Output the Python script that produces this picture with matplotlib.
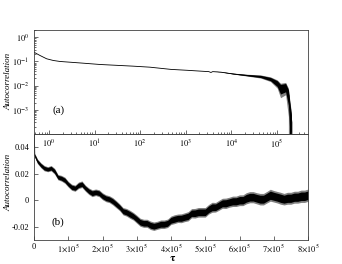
import numpy as np
import matplotlib
matplotlib.use("Agg")
import matplotlib.pyplot as plt
from matplotlib.ticker import LogLocator, FixedLocator, NullFormatter

plt.rcParams['font.family'] = ['Liberation Serif', 'DejaVu Serif']
plt.rcParams['mathtext.fontset'] = 'stix'

# ---- top panel (log-log) data ----
top_tau = [0.47, 0.635, 0.89, 1.24, 1.74, 5.6, 13.1, 69.5, 164, 473, 1100, 2500,
           3200, 3570, 3900, 5900, 11400, 22700, 45000, 74000, 104000, 123000,
           159000, 183000, 193000, 213000, 240000]
top_val = [0.241, 0.177, 0.129, 0.110, 0.100, 0.085, 0.075, 0.064, 0.058, 0.047,
           0.043, 0.039, 0.038, 0.035, 0.038, 0.036, 0.030, 0.026, 0.023, 0.018,
           0.012, 0.0075, 0.0085, 0.0040, 0.0014, 0.0003, -0.001]
top_band = [0, 0, 0, 0, 0, 0, 0, 0, 0, 0, 0, 0, 0, 0, 0, 0.0003, 0.0010, 0.0016,
            0.0024, 0.0028, 0.0032, 0.0032, 0.0032, 0.0025, 0.0012, 0.0003, 0.0003]

# ---- bottom panel (linear) data ----
bot_tau = [0, 2000] + [k * 1e4 for k in range(1, 81)]
bot_val = [0.06, 0.034,
           0.0294, 0.0264, 0.0242, 0.0234, 0.0242, 0.0219, 0.0174, 0.0166, 0.0151, 0.0121,
           0.0098, 0.0091, 0.0113, 0.0121, 0.0091, 0.0068, 0.0053, 0.0060, 0.0053, 0.0030,
           0.0015, 0.0008, -0.0008, -0.0030, -0.0053, -0.0083, -0.0091, -0.0106, -0.0121, -0.0143,
           -0.0166, -0.0174, -0.0174, -0.0189, -0.0196, -0.0189, -0.0181, -0.0181, -0.0174, -0.0151,
           -0.0143, -0.0136, -0.0136, -0.0128, -0.0121, -0.0098, -0.0098, -0.0091, -0.0091, -0.0091,
           -0.0068, -0.0053, -0.0053, -0.0038, -0.0023, -0.0023, -0.0015, -0.0008, -0.0008, 0.0000,
           0.0000, 0.0015, 0.0023, 0.0023, 0.0015, 0.0008, 0.0008, 0.0023, 0.0038, 0.0030,
           0.0023, 0.0015, 0.0008, 0.0015, 0.0015, 0.0023, 0.0023, 0.0030, 0.0030, 0.0038]
bot_band = [0.0008, 0.0010,
            0.0012, 0.0013, 0.0014, 0.0013, 0.0014, 0.0015, 0.0014, 0.0015, 0.0016, 0.0015,
            0.0016, 0.0016, 0.0017, 0.0017, 0.0016, 0.0017, 0.0018, 0.0017, 0.0018, 0.0018,
            0.0018, 0.0018, 0.0019, 0.0019, 0.0018, 0.0019, 0.0020, 0.0021, 0.0020, 0.0021,
            0.0021, 0.0021, 0.0021, 0.0022, 0.0022, 0.0021, 0.0022, 0.0022, 0.0022, 0.0022,
            0.0023, 0.0022, 0.0023, 0.0023, 0.0024, 0.0024, 0.0025, 0.0025, 0.0025, 0.0025,
            0.0025, 0.0026, 0.0025, 0.0026, 0.0026, 0.0027, 0.0026, 0.0027, 0.0027, 0.0028,
            0.0028, 0.0029, 0.0029, 0.0029, 0.0029, 0.0030, 0.0030, 0.0030, 0.0031, 0.0030,
            0.0030, 0.0031, 0.0030, 0.0031, 0.0031, 0.0031, 0.0031, 0.0032, 0.0032, 0.0032]

bot_ticks = [0, 1e5, 2e5, 3e5, 4e5, 5e5, 6e5, 7e5, 8e5]
bot_ticklabels = ['0'] + [r'$%d{\times}10^5$' % i for i in range(1, 9)]
bot_yticks = [-0.02, 0, 0.02, 0.04]
bot_yticklabels = ['-0.02', '0', '0.02', '0.04']

W, H = 342, 264
fig = plt.figure(figsize=(W / 100, H / 100), dpi=100)
L, R = 34 / W, 308 / W
ax1 = fig.add_axes([L, 1 - 134 / H, R - L, (134 - 30) / H])
ax2 = fig.add_axes([L, 1 - 240 / H, R - L, (240 - 134) / H])
ax2.patch.set_alpha(0)
ax1.set_zorder(3)
ax1.patch.set_alpha(0)

fs = 6
for ax in (ax1, ax2):
    for s in ax.spines.values():
        s.set_linewidth(0.6)
        s.set_color('0.25')
    ax.tick_params(which='both', direction='in', top=False, right=False,
                   labelsize=fs, width=0.5, colors='0.2', labelcolor='black')
    ax.tick_params(which='major', length=3)
    ax.tick_params(which='minor', length=1.6)

# top panel
tt = np.array(top_tau); tv = np.array(top_val); tb = np.array(top_band)
ax1.set_xscale('log'); ax1.set_yscale('log')
ax1.fill_between(tt, tv - 1.4 * tb, tv + 1.4 * tb, color='0.5', lw=0)
ax1.fill_between(tt, tv - tb, tv + tb, color='black', lw=0)
ax1.plot(tt, tv, color='black', lw=0.6)
ax1.set_xlim(0.47, 4.8e5)
ax1.set_ylim(1e-4, 2)
ax1.xaxis.set_major_locator(FixedLocator([1, 10, 100, 1e3, 1e4, 1e5]))
ax1.set_xticklabels([r'$10^{%d}$' % i for i in range(0, 6)])
ax1.xaxis.set_minor_locator(LogLocator(base=10, subs=np.arange(2, 10), numticks=20))
ax1.xaxis.set_minor_formatter(NullFormatter())
ax1.yaxis.set_major_locator(FixedLocator([1e-3, 1e-2, 1e-1, 1]))
ax1.set_yticklabels([r'$10^{-3}$', r'$10^{-2}$', r'$10^{-1}$', r'$10^{0}$'])
ax1.yaxis.set_minor_locator(LogLocator(base=10, subs=np.arange(2, 10), numticks=20))
ax1.yaxis.set_minor_formatter(NullFormatter())
ax1.tick_params(axis='x', which='major', pad=2.5)
ax1.set_ylabel('Autocorrelation', fontsize=6.5, style='italic')
ax1.yaxis.set_label_coords(-0.08, 0.51)
ax1.text(0.091, 0.23, '(a)', transform=ax1.transAxes, fontsize=8,
         ha='center', va='center')

# bottom panel
bt = np.array(bot_tau); bv = np.array(bot_val); bb = np.array(bot_band)
ax2.fill_between(bt, bv - 1.45 * bb, bv + 1.45 * bb, color='0.5', lw=0)
ax2.fill_between(bt, bv - bb, bv + bb, color='black', lw=0)
ax2.plot(bt, bv, color='black', lw=0.6)
ax2.set_xlim(0, 8e5)
ax2.set_ylim(-0.03, 0.05)
ax2.set_xticks(bot_ticks)
ax2.set_xticklabels(bot_ticklabels)
ax2.set_yticks(bot_yticks)
ax2.set_yticklabels(bot_yticklabels)
ax2.tick_params(axis='x', pad=2)
ax2.set_ylabel('Autocorrelation', fontsize=6.5, style='italic')
ax2.yaxis.set_label_coords(-0.08, 0.54)
ax2.set_xlabel(r'$\mathbf{\tau}$', fontsize=8)
ax2.xaxis.set_label_coords(0.504, -0.128)
ax2.text(0.088, 0.17, '(b)', transform=ax2.transAxes, fontsize=8,
         ha='center', va='center')

fig.savefig('out.png', dpi=100)
